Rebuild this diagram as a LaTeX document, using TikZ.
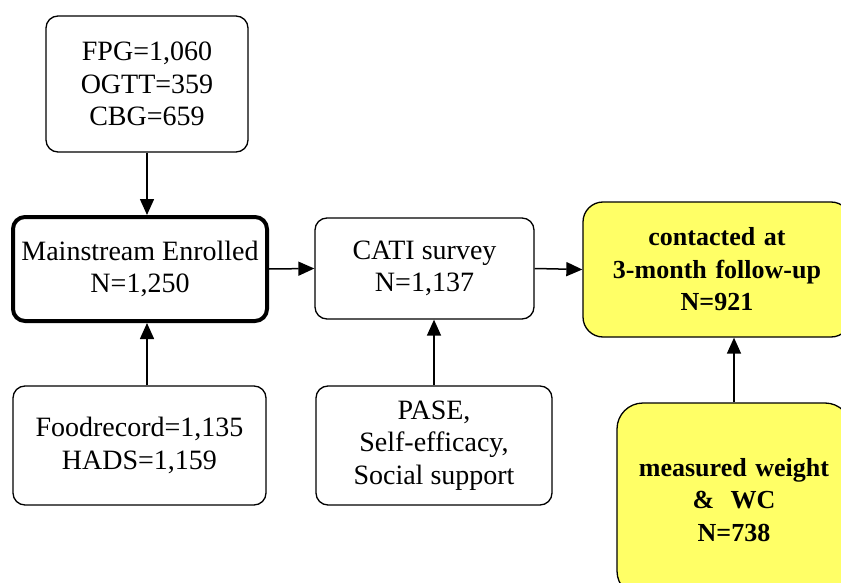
\documentclass[tikz,border=0pt]{standalone}
\usepackage{fontspec}
\setmainfont{Liberation Serif}
\usetikzlibrary{arrows.meta}
\definecolor{boxyellow}{RGB}{255,255,102}
\tikzset{
  box/.style={draw=black, line width=1.3pt, rounded corners=12pt, fill=white, inner sep=0pt,
    align=center, font=\fontsize{28}{32.5}\selectfont},
  mainbox/.style={box, line width=4pt},
  ybox/.style={box, fill=boxyellow, rounded corners=20pt, font=\bfseries\fontsize{26}{32.5}\selectfont},
  arr/.style={line width=1.5pt, -{Triangle[length=16pt,width=14pt]}}
}
\begin{document}
\begin{tikzpicture}[x=1pt,y=-1pt]
\useasboundingbox (0,0) rectangle (841,583);
\begin{scope}
\clip (0,0) rectangle (841,583);
\node[box, minimum width=202pt, minimum height=136pt] (fpg) at (147,84) {FPG=1,060\\OGTT=359\\CBG=659};
\node[mainbox, minimum width=254pt, minimum height=104pt] (main) at (140,269) {Mainstream Enrolled\\N=1,250};
\node[box, minimum width=219pt, minimum height=101pt] (cati) at (424.5,268.5) {CATI survey\\N=1,137};
\node[ybox, minimum width=268pt, minimum height=135pt, text width=268pt] (cont) at (717,269.5) {contacted at\\3-month follow-up\\N=921};
\node[box, minimum width=253pt, minimum height=119pt] (food) at (139.5,445.5) {Foodrecord=1,135\\HADS=1,159};
\node[box, minimum width=236pt, minimum height=119pt] (pase) at (434,445.5) {PASE,\\Self-efficacy,\\Social support};
\node[ybox, rounded corners=26pt, minimum width=234pt, minimum height=194pt, text width=234pt] (meas) at (734,500) {measured weight\\\& \hspace{0.3em}WC\\N=738};
\end{scope}
\draw[arr] (fpg.south) -- (fpg.south |- main.north);
\draw[arr] (main.east) -- (cati.west);
\draw[arr] (cati.east) -- (cont.west);
\draw[arr] (fpg.south |- food.north) -- (fpg.south |- main.south);
\draw[arr] (pase.north) -- (pase.north |- cati.south);
\draw[arr] (meas.north) -- (meas.north |- cont.south);
\end{tikzpicture}
\end{document}
